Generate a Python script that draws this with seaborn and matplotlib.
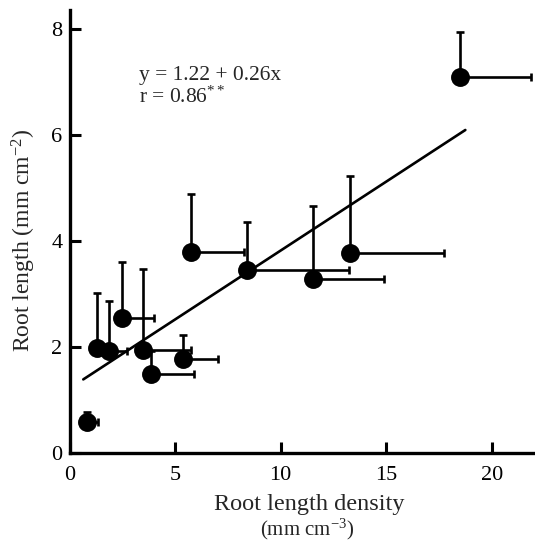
import numpy as np
import pandas as pd
import matplotlib
matplotlib.use("Agg")
import matplotlib.pyplot as plt
import seaborn as sns

# Root length density (x) vs root length (y), with one-sided error bars
rld = [0.84, 1.32, 1.89, 2.50, 3.50, 3.86, 5.39, 5.74, 8.43, 11.53, 13.29, 18.51]
root_len = [0.59, 1.99, 1.93, 2.55, 1.94, 1.50, 1.77, 3.79, 3.45, 3.28, 3.77, 7.09]
y_upper = [0.77, 3.01, 2.86, 3.60, 3.48, 1.92, 2.23, 4.89, 4.36, 4.67, 5.23, 7.94]
x_right = [1.35, 1.75, 2.72, 4.00, 5.74, 5.90, 7.04, 8.27, 13.26, 14.92, 17.72, 21.87]

# Regression fit y = a + b x
intercept = 1.22
slope = 0.26
fit_x = [0.65, 18.75]

x_ticks = [0, 5, 10, 15, 20]
y_ticks = [0, 2, 4, 6, 8]

sns.set_theme(style="ticks")
plt.rcParams["font.family"] = ["Liberation Serif", "DejaVu Serif"]
plt.rcParams["mathtext.fontset"] = "custom"
plt.rcParams["mathtext.rm"] = "Liberation Serif"
plt.rcParams["mathtext.it"] = "Liberation Serif:italic"

df = pd.DataFrame({"rld": rld, "root": root_len,
                   "yup": np.array(y_upper) - np.array(root_len),
                   "xr": np.array(x_right) - np.array(rld)})
fit_df = pd.DataFrame({"x": fit_x, "y": [intercept + slope * v for v in fit_x]})

fig = plt.figure(figsize=(5.35, 5.43), dpi=100)
ax = fig.add_axes([0.130, 0.1657, 0.870, 0.816])

zeros = np.zeros(len(df))
ax.errorbar(df["rld"], df["root"], yerr=[zeros, df["yup"]], fmt="none",
            ecolor="black", elinewidth=1.9, capsize=3.2, capthick=1.9, zorder=2)
ax.errorbar(df["rld"], df["root"], xerr=[zeros, df["xr"]], fmt="none",
            ecolor="black", elinewidth=1.9, capsize=3.2, capthick=1.9, zorder=2)

sns.lineplot(data=fit_df, x="x", y="y", ax=ax, color="black", linewidth=1.9, zorder=3)
sns.scatterplot(data=df, x="rld", y="root", ax=ax, color="black", s=185,
                edgecolor="black", linewidth=0, zorder=4)

ax.set_xlim(0, 22.05)
ax.set_ylim(0, 8.36)
ax.set_xticks(x_ticks)
ax.set_yticks(y_ticks)
sns.despine(ax=ax)
for side in ["left", "bottom"]:
    ax.spines[side].set_linewidth(2.4)
    ax.spines[side].set_color("black")
ax.tick_params(direction="in", length=8, width=2.2, labelsize=16, colors="black")
ax.tick_params(axis="x", pad=9)
ax.tick_params(axis="y", pad=5)

ax.set_xlabel("")
ax.set_ylabel("Root length (mm cm$^{-2}$)", fontsize=17)
ax.yaxis.set_label_coords(-0.068, 0.48)
fig.text(0.578, 0.070, "Root length density", ha="center", va="center", fontsize=17.5)
fig.text(0.575, 0.025, "(mm cm$^{-3}$)", ha="center", va="center", fontsize=15)

ax.text(3.3, 7.13, "y = 1.22 + 0.26x", fontsize=15.5, ha="left", va="center")
ax.text(3.3, 6.71, "r = 0.86$^{**}$", fontsize=15.5, ha="left", va="center")

fig.savefig("out.png", dpi=100)
